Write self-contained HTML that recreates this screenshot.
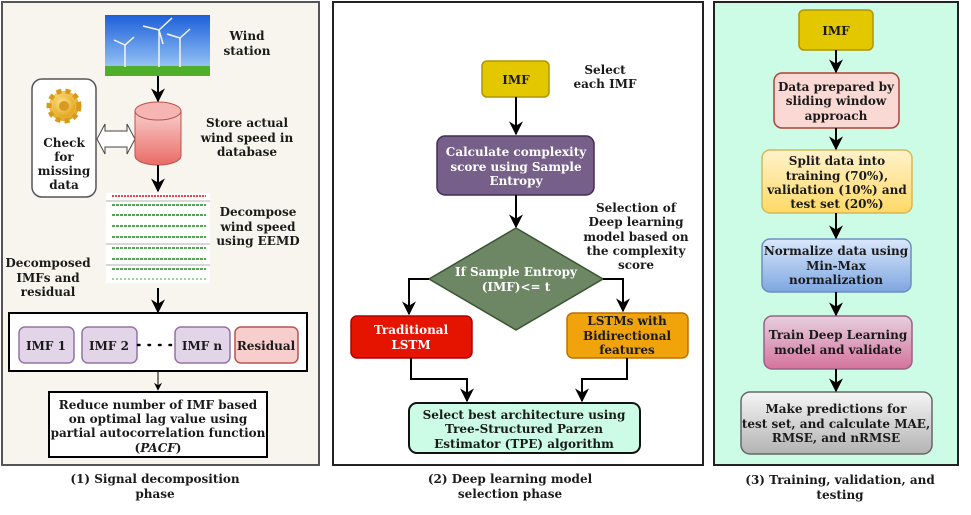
<!DOCTYPE html>
<html><head><meta charset="utf-8"><style>
html,body{margin:0;padding:0;background:#fff;}
svg{display:block;}
text{font-family:"DejaVu Serif","Liberation Serif",serif;font-weight:bold;font-size:12px;fill:#1a1a1a;text-anchor:middle;}
.w{fill:#fff;}
</style></head><body>
<svg width="971" height="515" viewBox="0 0 971 515" xmlns="http://www.w3.org/2000/svg">
<defs>
<marker id="a" viewBox="0 0 10 10" refX="9" refY="5" markerWidth="7" markerHeight="7" orient="auto"><path d="M0,0 L10,5 L0,10 L3,5 z" fill="#000"/></marker>
<marker id="s" viewBox="0 0 10 10" refX="9" refY="5" markerWidth="8" markerHeight="8" orient="auto"><path d="M0,0 L10,5 L0,10 L3,5 z" fill="#000"/></marker>
<linearGradient id="sky" x1="0" y1="0" x2="0" y2="1"><stop offset="0" stop-color="#1d5fd8"/><stop offset="0.7" stop-color="#7fb1f0"/><stop offset="1" stop-color="#b9d6f5"/></linearGradient>
<linearGradient id="cyl" x1="0" y1="0" x2="0" y2="1"><stop offset="0" stop-color="#f8cecc"/><stop offset="1" stop-color="#ea6b66"/></linearGradient>
<linearGradient id="gy" x1="0" y1="0" x2="0" y2="1"><stop offset="0" stop-color="#fff2cc"/><stop offset="1" stop-color="#ffd966"/></linearGradient>
<linearGradient id="gb" x1="0" y1="0" x2="0" y2="1"><stop offset="0" stop-color="#dae8fc"/><stop offset="1" stop-color="#7ea6e0"/></linearGradient>
<linearGradient id="gp" x1="0" y1="0" x2="0" y2="1"><stop offset="0" stop-color="#e6d0de"/><stop offset="1" stop-color="#d5739d"/></linearGradient>
<linearGradient id="gg" x1="0" y1="0" x2="0" y2="1"><stop offset="0" stop-color="#f5f5f5"/><stop offset="1" stop-color="#b3b3b3"/></linearGradient>
<radialGradient id="gear" cx="0.4" cy="0.35" r="0.7"><stop offset="0" stop-color="#ffe48a"/><stop offset="1" stop-color="#e0a21a"/></radialGradient>
</defs>

<!-- Panel 1 -->
<rect x="2" y="2" width="317" height="463" fill="#f7f5ee" stroke="#555" stroke-width="2"/>
<rect x="105" y="15" width="105" height="61" fill="url(#sky)"/>
<rect x="105" y="66" width="105" height="10" fill="#4fae2a"/>
<g stroke="#f4f4f4" stroke-width="1.5">
<line x1="125" y1="45" x2="125" y2="67"/><line x1="125" y1="45" x2="114" y2="40"/><line x1="125" y1="45" x2="134" y2="37"/>
<line x1="159" y1="30" x2="159" y2="67"/><line x1="159" y1="30" x2="143" y2="26"/><line x1="159" y1="30" x2="172" y2="18"/><line x1="159" y1="30" x2="163" y2="44"/>
<line x1="180" y1="38" x2="180" y2="67"/><line x1="180" y1="38" x2="167" y2="34"/><line x1="180" y1="38" x2="190" y2="29"/>
</g>
<text x="247" y="40">Wind</text><text x="247" y="55">station</text>

<rect x="32" y="79" width="64" height="118" rx="10" fill="#fff" stroke="#555" stroke-width="1.5"/>
<circle cx="64" cy="106" r="15" fill="url(#gear)" stroke="#d89a1a" stroke-width="5" stroke-dasharray="5 4"/>
<circle cx="64" cy="106" r="11" fill="url(#gear)"/>
<circle cx="64" cy="106" r="5" fill="#d99a22"/>
<text x="64" y="147" font-size="13">Check</text><text x="64" y="161" font-size="13">for</text><text x="64" y="175" font-size="13">missing</text><text x="64" y="189" font-size="13">data</text>

<path d="M97,139 L105,124 L105,131 L127,131 L127,124 L135,139 L127,154 L127,147 L105,147 L105,154 Z" fill="#fff" stroke="#444" stroke-width="1"/>
<path d="M135,111 L135,156 A23,9 0 0 0 181,156 L181,111 Z" fill="url(#cyl)" stroke="#b85450" stroke-width="1"/>
<ellipse cx="158" cy="111" rx="23" ry="9" fill="#f6b5b2" stroke="#b85450" stroke-width="1"/>
<text x="247" y="127">Store actual</text><text x="247" y="142">wind speed in</text><text x="247" y="156">database</text>

<line x1="158" y1="76" x2="158" y2="101" stroke="#000" stroke-width="2" marker-end="url(#a)"/>
<line x1="158" y1="165" x2="158" y2="191" stroke="#000" stroke-width="2" marker-end="url(#a)"/>

<g stroke-width="1.5">
<rect x="106" y="193" width="104" height="90" fill="#fff" stroke="none"/>
<path d="M112,196 H206" stroke="#e00" stroke-dasharray="2 1"/>
<path d="M112,205 H206 M112,215 H206 M112,226 H206 M112,237 H206 M112,248 H206 M112,259 H206 M112,269 H206" stroke="#1a8a1a" stroke-dasharray="3 1"/>
<path d="M112,279 H206" stroke="#7ac77a" stroke-dasharray="2 2"/>
<path d="M106,201 H210 M106,244 H210 M106,265 H210" stroke="#999" stroke-width="0.8"/>
</g>
<text x="258" y="216">Decompose</text><text x="258" y="231">wind speed</text><text x="258" y="245">using EEMD</text>
<text x="48" y="267">Decomposed</text><text x="48" y="282">IMFs and</text><text x="48" y="296">residual</text>
<line x1="158" y1="288" x2="158" y2="312" stroke="#000" stroke-width="2" marker-end="url(#a)"/>

<rect x="9" y="313" width="298" height="58" fill="#fff" stroke="#000" stroke-width="2"/>
<g stroke-width="1.5">
<rect x="19" y="327" width="55" height="36" rx="6" fill="#e1d5e7" stroke="#9673a6"/>
<rect x="82" y="327" width="55" height="36" rx="6" fill="#e1d5e7" stroke="#9673a6"/>
<rect x="175" y="327" width="55" height="36" rx="6" fill="#e1d5e7" stroke="#9673a6"/>
<rect x="235" y="327" width="63" height="36" rx="6" fill="#f8cecc" stroke="#b85450"/>
</g>
<text x="46" y="350">IMF 1</text><text x="109" y="350">IMF 2</text><text x="202" y="350">IMF n</text><text x="266" y="350">Residual</text>
<line x1="138" y1="345" x2="175" y2="345" stroke="#000" stroke-width="2.5" stroke-dasharray="1.5 9" stroke-linecap="round"/>
<line x1="158" y1="371" x2="158" y2="390" stroke="#000" stroke-width="1" marker-end="url(#s)"/>
<rect x="49" y="392" width="218" height="65" fill="#fff" stroke="#000" stroke-width="2"/>
<text x="158" y="409">Reduce number of IMF based</text><text x="158" y="423">on optimal lag value using</text><text x="158" y="437">partial autocorrelation function</text>
<text x="158" y="452">(<tspan font-style="italic">PACF</tspan>)</text>
<text x="155" y="483">(1) Signal decomposition</text><text x="155" y="498">phase</text>

<!-- Panel 2 -->
<rect x="333" y="2" width="370" height="463" fill="#fff" stroke="#222" stroke-width="2"/>
<rect x="482" y="61" width="67" height="36" rx="5" fill="#e3c800" stroke="#b09500" stroke-width="1.5"/>
<text x="516" y="84">IMF</text>
<text x="605" y="74">Select</text><text x="605" y="88">each IMF</text>
<line x1="516" y1="97" x2="516" y2="134" stroke="#000" stroke-width="2" marker-end="url(#a)"/>
<rect x="437" y="136" width="157" height="59" rx="8" fill="#76608a" stroke="#432d57" stroke-width="1.5"/>
<text class="w" x="516" y="156">Calculate complexity</text><text class="w" x="516" y="171">score using Sample</text><text class="w" x="516" y="185">Entropy</text>
<line x1="516" y1="195" x2="516" y2="227" stroke="#000" stroke-width="2" marker-end="url(#a)"/>
<text x="636" y="212">Selection of</text><text x="636" y="226">Deep learning</text><text x="636" y="241">model based on</text><text x="636" y="255">the complexity</text><text x="636" y="269">score</text>
<polygon points="516,228 603,279 516,330 429,279" fill="#6d8764" stroke="#3a5431" stroke-width="1.5"/>
<text class="w" x="516" y="276">If Sample Entropy</text><text class="w" x="516" y="291">(IMF)&lt;= t</text>
<polyline points="429,279 409,279 409,314" fill="none" stroke="#000" stroke-width="2" marker-end="url(#a)"/>
<polyline points="603,279 623,279 623,311" fill="none" stroke="#000" stroke-width="2" marker-end="url(#a)"/>
<rect x="351" y="316" width="121" height="42" rx="6" fill="#e51400" stroke="#b20000" stroke-width="1.5"/>
<text class="w" x="411" y="334">Traditional</text><text class="w" x="411" y="349">LSTM</text>
<rect x="567" y="313" width="121" height="45" rx="6" fill="#f0a30a" stroke="#bd7000" stroke-width="1.5"/>
<text x="627" y="325">LSTMs with</text><text x="627" y="340">Bidirectional</text><text x="627" y="354">features</text>
<polyline points="411,358 411,379 467,379 467,401" fill="none" stroke="#000" stroke-width="2" marker-end="url(#a)"/>
<polyline points="627,358 627,379 582,379 582,401" fill="none" stroke="#000" stroke-width="2" marker-end="url(#a)"/>
<rect x="409" y="403" width="231" height="50" rx="8" fill="#ccfce6" stroke="#111" stroke-width="2"/>
<text x="524" y="419">Select best architecture using</text><text x="524" y="433">Tree-Structured Parzen</text><text x="524" y="448">Estimator (TPE) algorithm</text>
<text x="510" y="483">(2) Deep learning model</text><text x="510" y="498">selection phase</text>

<!-- Panel 3 -->
<rect x="714" y="2" width="244" height="463" fill="#ccfce6" stroke="#222" stroke-width="2"/>
<rect x="799" y="10" width="74" height="40" rx="5" fill="#e3c800" stroke="#b09500" stroke-width="1.5"/>
<text x="836" y="35">IMF</text>
<rect x="774" y="73" width="125" height="55" rx="8" fill="#fad9d5" stroke="#ae4132" stroke-width="1.5"/>
<text x="836" y="91">Data prepared by</text><text x="836" y="105">sliding window</text><text x="836" y="120">approach</text>
<rect x="762" y="150" width="150" height="63" rx="8" fill="url(#gy)" stroke="#d6b656" stroke-width="1.5"/>
<text x="837" y="165">Split data into</text><text x="837" y="180">training (70%),</text><text x="837" y="194">validation (10%) and</text><text x="837" y="208">test set (20%)</text>
<rect x="762" y="239" width="149" height="53" rx="8" fill="url(#gb)" stroke="#6c8ebf" stroke-width="1.5"/>
<text x="836" y="255">Normalize data using</text><text x="836" y="270">Min-Max</text><text x="836" y="284">normalization</text>
<rect x="764" y="316" width="148" height="53" rx="8" fill="url(#gp)" stroke="#996185" stroke-width="1.5"/>
<text x="838" y="339">Train Deep Learning</text><text x="838" y="354">model and validate</text>
<rect x="741" y="392" width="191" height="62" rx="9" fill="url(#gg)" stroke="#666" stroke-width="1.5"/>
<text x="836" y="413">Make predictions for</text><text x="836" y="428">test set, and calculate MAE,</text><text x="836" y="442">RMSE, and nRMSE</text>
<g stroke="#000" stroke-width="2">
<line x1="836" y1="50" x2="836" y2="72" marker-end="url(#a)"/>
<line x1="836" y1="128" x2="836" y2="149" marker-end="url(#a)"/>
<line x1="836" y1="213" x2="836" y2="238" marker-end="url(#a)"/>
<line x1="836" y1="292" x2="836" y2="315" marker-end="url(#a)"/>
<line x1="836" y1="369" x2="836" y2="391" marker-end="url(#a)"/>
</g>
<text x="840" y="484">(3) Training, validation, and</text><text x="840" y="499">testing</text>
</svg>
</body></html>
